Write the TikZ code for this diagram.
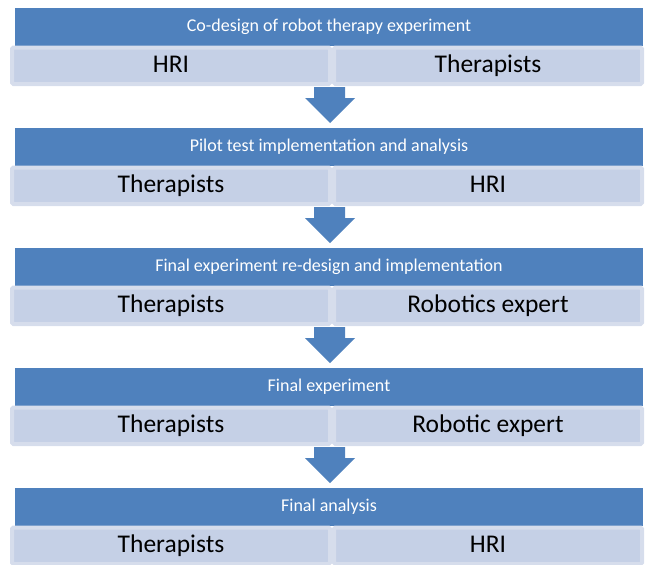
\documentclass[tikz,border=0pt]{standalone}
\usepackage{fontspec}
\setmainfont{Carlito}
\definecolor{hdblue}{HTML}{4F81BD}
\definecolor{cellfill}{HTML}{C5D0E6}
\definecolor{cellrim}{HTML}{D6DDEC}
\tikzset{
  header/.style={fill=hdblue, draw=none},
  cellbox/.style={fill=cellfill, draw=cellrim, line width=4pt, rounded corners=1.5pt},
  headtext/.style={text=white, anchor=base, inner sep=0pt, font=\fontsize{18}{22}\selectfont},
  celltext/.style={text=black, anchor=base, inner sep=0pt, font=\fontsize{25.5}{30}\selectfont},
  flowarrow/.style={fill=hdblue, draw=none}
}
\begin{document}
\begin{tikzpicture}[x=1pt,y=-1pt]
\useasboundingbox (0,0) rectangle (646,565);
% one stage per row: header bar, two role cells, arrow to the next stage
\foreach \i/\title/\left/\right in {
  0/{Co-design of robot therapy experiment}/{HRI}/{Therapists},
  1/{Pilot test implementation and analysis}/{Therapists}/{HRI},
  2/{Final experiment re-design and implementation}/{Therapists}/{Robotics expert},
  3/{Final experiment}/{Therapists}/{Robotic expert},
  4/{Final analysis}/{Therapists}/{HRI}} {
  \pgfmathsetmacro{\y}{8+120*\i}
  \fill[header] (15,\y) rectangle (643,\y+37.5);
  \node[headtext] (h\i) at (329,\y+23.5) {\title};
  \draw[cellbox] (12,\y+39.5) rectangle (330,\y+76);
  \draw[cellbox] (334,\y+39.5) rectangle (642,\y+76);
  \node[celltext] (l\i) at (171,\y+64.5) {\left};
  \node[celltext] (r\i) at (488,\y+64.5) {\right};
}
\foreach \i in {0,...,3} {
  \pgfmathsetmacro{\y}{8+120*\i}
  \fill[flowarrow] (314,\y+79) -- (345,\y+79) -- (345,\y+90) -- (355,\y+90)
     -- (330,\y+115) -- (305,\y+90) -- (314,\y+90) -- cycle;
}
\end{tikzpicture}
\end{document}
